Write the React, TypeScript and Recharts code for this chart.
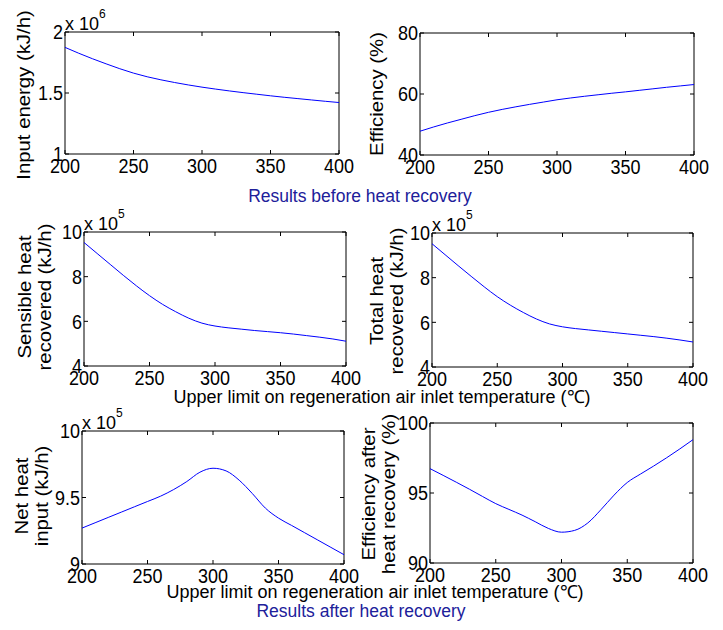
import { LineChart, Line, XAxis, YAxis, ReferenceArea } from 'recharts';

// upper limit on regeneration air inlet temperature (°C)
const temps = [200, 210, 220, 230, 240, 250, 260, 270, 280, 290, 300, 310, 320, 330, 340, 350, 360, 370, 380, 390, 400];

// x 10^6 kJ/h
const inputEnergy = [1.874, 1.826, 1.781, 1.739, 1.699, 1.663, 1.633, 1.608, 1.586, 1.566, 1.548, 1.532, 1.517, 1.503, 1.49, 1.477, 1.465, 1.454, 1.443, 1.432, 1.422];
// %
const efficiency = [47.8, 49.2, 50.5, 51.7, 52.9, 54.0, 54.95, 55.8, 56.6, 57.35, 58.1, 58.7, 59.25, 59.75, 60.25, 60.7, 61.2, 61.7, 62.2, 62.65, 63.1];
// x 10^5 kJ/h
const sensibleHeat = [9.53, 9.04, 8.55, 8.06, 7.59, 7.15, 6.76, 6.43, 6.14, 5.92, 5.79, 5.71, 5.65, 5.59, 5.54, 5.49, 5.43, 5.36, 5.29, 5.21, 5.11];
const totalHeat = [9.52, 9.03, 8.54, 8.06, 7.59, 7.15, 6.77, 6.44, 6.15, 5.93, 5.8, 5.72, 5.66, 5.6, 5.54, 5.48, 5.42, 5.36, 5.29, 5.21, 5.12];
const netHeat = [9.27, 9.31, 9.35, 9.39, 9.43, 9.47, 9.51, 9.56, 9.62, 9.69, 9.72, 9.7, 9.63, 9.53, 9.42, 9.345, 9.29, 9.235, 9.18, 9.125, 9.07];
// %
const efficiencyAfter = [96.74, 96.26, 95.77, 95.27, 94.75, 94.24, 93.83, 93.42, 92.95, 92.47, 92.2, 92.33, 92.86, 93.81, 94.85, 95.75, 96.35, 96.92, 97.52, 98.15, 98.81];

const xTicks = [200, 250, 300, 350, 400];

const FONT = '"Liberation Sans", Arial, sans-serif';
const TITLE_BLUE = '#20209a';
const PAD_L = 80;
const PAD_T = 30;
const PAD_R = 30;
const PAD_B = 30;
const TICK = 4;

function XTick({ x, y, payload, plotH }: any) {
  return (
    <g>
      <line x1={x} x2={x} y1={y} y2={y - TICK} stroke="#000" />
      <line x1={x} x2={x} y1={y - plotH} y2={y - plotH + TICK} stroke="#000" />
      <text
        transform={`translate(${x},${y + 19}) scale(1,1.15)`}
        textAnchor="middle"
        fontSize={18}
        fontFamily={FONT}
        fill="#000"
      >
        {payload.value}
      </text>
    </g>
  );
}

function YTick({ x, y, payload, plotW }: any) {
  return (
    <g>
      <line x1={x} x2={x + TICK} y1={y} y2={y} stroke="#000" />
      <line x1={x + plotW} x2={x + plotW - TICK} y1={y} y2={y} stroke="#000" />
      <text
        transform={`translate(${x - 2},${y}) scale(1,1.15)`}
        dy="0.36em"
        textAnchor="end"
        fontSize={18}
        fontFamily={FONT}
        fill="#000"
      >
        {payload.value}
      </text>
    </g>
  );
}

interface PanelProps {
  values: number[];
  domain: [number, number];
  yTicks: number[];
  left: number;
  top: number;
  width: number;
  height: number;
}

function Panel({ values, domain, yTicks, left, top, width, height }: PanelProps) {
  const data = temps.map((t, i) => ({ t, v: values[i] }));
  return (
    <div style={{ position: 'absolute', left: left - PAD_L, top: top - PAD_T }}>
      <LineChart
        width={width + PAD_L + PAD_R}
        height={height + PAD_T + PAD_B}
        data={data}
        margin={{ top: PAD_T, right: PAD_R, bottom: 0, left: 0 }}
      >
        <XAxis
          dataKey="t"
          type="number"
          domain={[200, 400]}
          ticks={xTicks}
          interval={0}
          height={PAD_B}
          axisLine={false}
          tickLine={false}
          tickSize={0}
          tickMargin={0}
          tick={(p: any) => <XTick {...p} plotH={height} />}
        />
        <YAxis
          type="number"
          domain={domain}
          ticks={yTicks}
          interval={0}
          width={PAD_L}
          axisLine={false}
          tickLine={false}
          tickSize={0}
          tickMargin={0}
          tick={(p: any) => <YTick {...p} plotW={width} />}
        />
        <ReferenceArea x1={200} x2={400} y1={domain[0]} y2={domain[1]} stroke="#000" strokeWidth={1} fill="none" />
        <Line type="monotone" dataKey="v" stroke="#0000ff" strokeWidth={1} dot={false} isAnimationActive={false} />
      </LineChart>
    </div>
  );
}

function VLabel({ x, y, lines, gap = 20 }: { x: number; y: number; lines: string[]; gap?: number }) {
  return (
    <>
      {lines.map((s, i) => (
        <text
          key={s}
          transform={`translate(${x + i * gap},${y}) rotate(-90) scale(1.13,1)`}
          textAnchor="middle"
          fontSize={18}
          fontFamily={FONT}
          fill="#000"
        >
          {s}
        </text>
      ))}
    </>
  );
}

function Exponent({ x, y, power }: { x: number; y: number; power: number }) {
  return (
    <text x={x} y={y} fontSize={18} fontFamily={FONT} fill="#000">
      x 10
      <tspan dy={-12} fontSize={12}>
        {power}
      </tspan>
    </text>
  );
}

export default function App() {
  const xLabel = 'Upper limit on regeneration air inlet temperature (\u2103)';
  return (
    <div style={{ position: 'absolute', left: 0, top: 0, width: 723, height: 630, background: '#fff', overflow: 'hidden' }}>
      <Panel values={inputEnergy} domain={[1, 2]} yTicks={[1, 1.5, 2]} left={65} top={32} width={274} height={122} />
      <Panel values={efficiency} domain={[40, 80]} yTicks={[40, 60, 80]} left={420} top={33} width={274} height={122} />
      <Panel values={sensibleHeat} domain={[4, 10]} yTicks={[4, 6, 8, 10]} left={84} top={232} width={262} height={134} />
      <Panel values={totalHeat} domain={[4, 10]} yTicks={[4, 6, 8, 10]} left={432} top={233} width={261} height={134} />
      <Panel values={netHeat} domain={[9, 10]} yTicks={[9, 9.5, 10]} left={82} top={431} width={262} height={133} />
      <Panel values={efficiencyAfter} domain={[90, 100]} yTicks={[90, 95, 100]} left={430} top={423} width={263} height={140} />

      <svg width={723} height={630} style={{ position: 'absolute', left: 0, top: 0, pointerEvents: 'none' }}>
        <Exponent x={65} y={30} power={6} />
        <Exponent x={84} y={230} power={5} />
        <Exponent x={432} y={231} power={5} />
        <Exponent x={82} y={429} power={5} />

        <VLabel x={29.5} y={95} lines={['Input energy (kJ/h)']} />
        <VLabel x={383} y={94} lines={['Efficiency (%)']} />
        <VLabel x={31} y={297} lines={['Sensible heat', 'recovered (kJ/h)']} />
        <VLabel x={383} y={301} lines={['Total heat', 'recovered (kJ/h)']} />
        <VLabel x={28} y={496} lines={['Net heat', 'input (kJ/h)']} />
        <VLabel x={375} y={494} lines={['Efficiency after', 'heat recovery (%)']} />

        <text x={360} y={202} textAnchor="middle" fontSize={17.5} fontFamily={FONT} fill={TITLE_BLUE}>
          Results before heat recovery
        </text>
        <text x={382} y={403} textAnchor="middle" fontSize={18} fontFamily={FONT} fill="#000">
          {xLabel}
        </text>
        <text x={375} y={598} textAnchor="middle" fontSize={18} fontFamily={FONT} fill="#000">
          {xLabel}
        </text>
        <text x={361} y={617} textAnchor="middle" fontSize={17.5} fontFamily={FONT} fill={TITLE_BLUE}>
          Results after heat recovery
        </text>
      </svg>
    </div>
  );
}
